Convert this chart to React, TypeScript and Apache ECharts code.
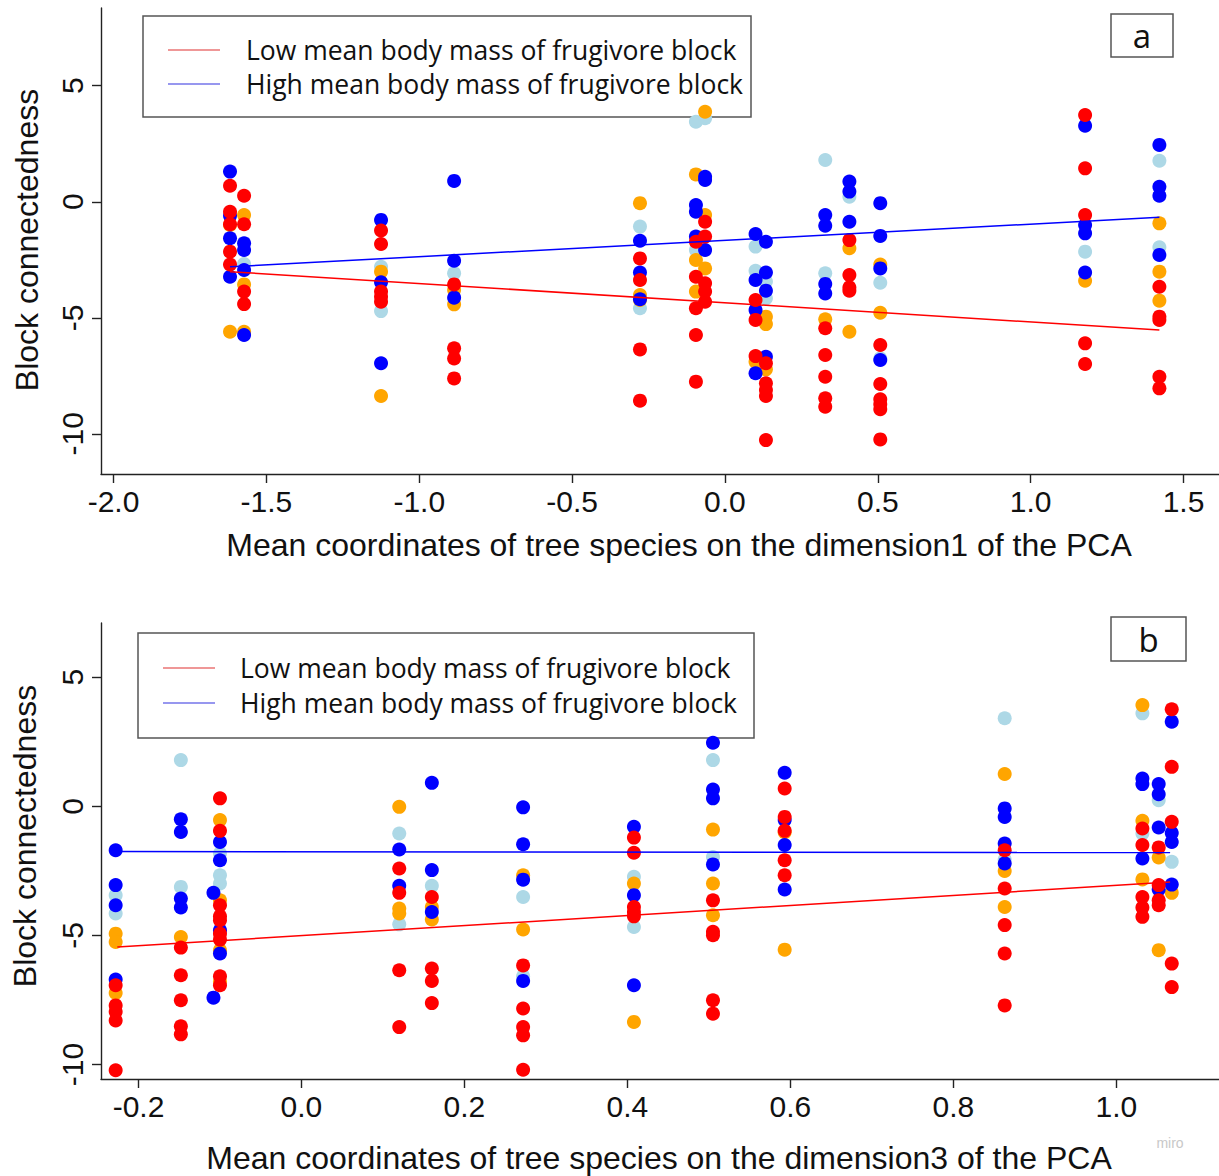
import React, { useEffect, useRef } from "react";
import * as echarts from "echarts";

// ---------- Panel a (dimension 1) ----------
const aX = [-1.619, -1.573, -1.125, -0.886, -0.278, -0.095, -0.065, 0.1, 0.134, 0.328, 0.407, 0.508, 1.178, 1.421];
const aRed = [
  [0.69, -0.43, -0.97, -2.15, -2.7],
  [0.26, -0.97, -3.87, -4.41],
  [-1.24, -1.82, -3.87, -4.09, -4.31],
  [-3.56, -6.31, -6.75, -7.61],
  [-2.44, -3.37, -6.36, -8.57],
  [-1.72, -3.23, -4.59, -5.74, -7.75],
  [-0.86, -1.5, -3.51, -3.87, -4.31],
  [-4.23, -5.09, -6.65],
  [-6.96, -7.82, -8.11, -8.37, -10.27],
  [-5.45, -6.6, -7.54, -8.47, -8.83],
  [-1.65, -3.16, -3.69, -3.83],
  [-6.17, -7.85, -8.51, -8.72, -8.94, -10.24],
  [3.74, 1.44, -0.57, -6.1, -6.99],
  [-3.66, -4.95, -5.09, -7.54, -8.04],
];
const aBlue = [
  [1.3, -0.6, -1.57, -3.23],
  [-1.79, -2.08, -2.94, -5.74],
  [-0.78, -3.47, -6.96],
  [0.9, -2.54, -4.13],
  [-1.68, -3.05, -4.2],
  [-0.14, -0.43, -1.5],
  [1.08, 0.94, -2.08],
  [-1.39, -3.37, -4.66, -7.39],
  [-1.72, -3.05, -3.83, -6.68],
  [-0.57, -1.03, -3.54, -3.95],
  [0.87, 0.44, -0.86],
  [-0.06, -1.47, -2.87, -6.82],
  [3.28, -1.0, -1.36, -3.05],
  [2.45, 0.65, 0.26, -2.29],
];
const aOrange = [
  [-1.0, -5.6],
  [-0.57, -3.56, -5.6],
  [-3.01, -8.37],
  [-3.8, -4.42],
  [-0.06, -4.02, -4.23],
  [1.18, -2.51, -3.87],
  [3.88, -0.57, -2.87],
  [-6.89],
  [-4.95, -5.27, -7.22],
  [-5.06],
  [-2.0, -5.6],
  [-2.7, -4.78],
  [-3.4],
  [-0.93, -3.01, -4.26],
];
const aLight = [
  [],
  [-2.68],
  [-2.8, -4.71],
  [-3.08],
  [-1.07, -4.59],
  [3.45, -2.08],
  [3.6],
  [-1.93, -2.97],
  [-3.44, -4.16],
  [1.8, -3.08],
  [0.22],
  [-3.49, -6.75],
  [-2.15],
  [1.77, -1.96],
];
const aRedFit = [[-1.619, -3.01], [1.421, -5.53]];
const aBlueFit = [[-1.619, -2.8], [1.421, -0.67]];
const aXTicks = [-2.0, -1.5, -1.0, -0.5, 0.0, 0.5, 1.0, 1.5];
const aYTicks = [-10, -5, 0, 5];

// ---------- Panel b (dimension 3) ----------
const bX = [-0.228, -0.148, -0.1, -0.108, 0.12, 0.16, 0.272, 0.408, 0.505, 0.593, 0.863, 1.032, 1.052, 1.068];
const bRed = [
  [-6.93, -7.71, -7.96, -8.29, -10.22],
  [-5.47, -6.54, -7.51, -8.52, -8.83],
  [0.31, -0.95, -3.83, -4.26, -4.41, -4.93, -5.16, -6.58, -6.93],
  [],
  [-2.41, -3.35, -6.35, -8.55],
  [-3.51, -6.28, -6.76, -7.62],
  [-6.16, -7.83, -8.55, -8.87, -10.2],
  [-1.21, -1.8, -3.9, -4.09, -4.26],
  [-3.64, -4.86, -4.99, -7.51, -8.03],
  [0.69, -0.41, -0.95, -2.09, -2.67],
  [-1.7, -3.18, -4.6, -5.7, -7.71],
  [-0.86, -1.5, -3.51, -3.92, -4.28],
  [-1.59, -3.05, -3.64, -3.83],
  [3.76, 1.53, -0.6, -6.09, -7.0],
];
const bBlue = [
  [-1.7, -3.05, -3.83, -6.71],
  [-0.5, -0.99, -3.57, -3.92],
  [-1.38, -2.09, -4.8, -5.7],
  [-3.35, -7.41],
  [-1.67, -3.08],
  [0.91, -2.47, -4.09],
  [-0.04, -1.47, -2.84, -6.76],
  [-0.79, -3.44, -6.93],
  [2.46, 0.65, 0.31, -2.25],
  [1.3, -0.53, -1.5, -3.22],
  [-0.08, -0.41, -1.44, -2.21],
  [1.08, 0.86, -2.02],
  [0.86, 0.47, -0.82, -3.22],
  [3.28, -1.03, -1.38, -3.03],
];
const bOrange = [
  [-4.93, -5.25, -7.23],
  [-5.06],
  [-0.53, -3.64, -5.57, -6.78],
  [],
  [-0.02, -3.96, -4.15],
  [-3.9, -4.38],
  [-2.67, -4.77],
  [-2.99, -8.35],
  [-0.9, -2.99, -4.22],
  [-1.0, -5.55],
  [1.25, -2.5, -3.9],
  [3.92, -0.56, -2.83],
  [-1.98, -5.57],
  [-3.35],
];
const bLight = [
  [-3.44, -4.15],
  [1.79, -3.12],
  [-1.83, -2.67, -2.99],
  [],
  [-1.05, -4.57],
  [-3.08],
  [-3.51, -6.58],
  [-2.73, -4.67],
  [1.79, -1.96],
  [],
  [3.41, -2.06],
  [3.6, -1.05],
  [0.24],
  [-2.15],
];
const bRedFit = [[-0.226, -5.45], [1.066, -2.93]];
const bBlueFit = [[-0.226, -1.75], [1.066, -1.79]];
const bXTicks = [-0.2, 0.0, 0.2, 0.4, 0.6, 0.8, 1.0];
const bYTicks = [-10, -5, 0, 5];

const legendLabels = ["Low mean body mass of frugivore block", "High mean body mass of frugivore block"];
const xTitles = [
  "Mean coordinates of tree species on the dimension1 of the PCA",
  "Mean coordinates of tree species on the dimension3 of the PCA",
];
const yTitle = "Block connectedness";
const panelLetters = ["a", "b"];

const RED = "#ff0000";
const BLUE = "#0000ff";
const ORANGE = "#ffa500";
const LIGHT = "#add8e6";
const AXFONT = "'Liberation Sans', Arial, sans-serif";
const LGFONT = "'Open Sans', 'Liberation Sans', sans-serif";

function toPts(xs: number[], ys: number[][]) {
  const out: number[][] = [];
  xs.forEach((x, i) => (ys[i] || []).forEach((y) => out.push([x, y])));
  return out;
}

function makeAxes(gi: number, xmin: number, xmax: number, ymin: number, ymax: number, xt: number[], yt: number[]) {
  const lineStyle = { color: "#222", width: 1.4 };
  const x = {
    gridIndex: gi,
    type: "value",
    min: xmin,
    max: xmax,
    splitLine: { show: false },
    axisLine: { show: true, onZero: false, lineStyle },
    axisTick: { show: true, length: 9, customValues: xt, lineStyle },
    axisLabel: {
      customValues: xt,
      formatter: (v: number) => v.toFixed(1),
      fontSize: 30,
      fontFamily: AXFONT,
      color: "#111",
      margin: 12,
    },
  };
  const y = {
    gridIndex: gi,
    type: "value",
    min: ymin,
    max: ymax,
    splitLine: { show: false },
    axisLine: { show: true, onZero: false, lineStyle },
    axisTick: { show: true, length: 9, customValues: yt, lineStyle },
    axisLabel: {
      customValues: yt,
      formatter: (v: number) => String(v),
      fontSize: 30,
      fontFamily: AXFONT,
      color: "#111",
      rotate: 90,
      margin: 14,
    },
  };
  return [x, y];
}

function scatterSeries(gi: number, color: string, data: number[][], z: number) {
  return {
    type: "scatter",
    xAxisIndex: gi,
    yAxisIndex: gi,
    data,
    symbol: "circle",
    symbolSize: 14,
    itemStyle: { color, opacity: 1 },
    z,
    silent: true,
  };
}

function fitSeries(gi: number, color: string, data: number[][]) {
  return {
    type: "line",
    xAxisIndex: gi,
    yAxisIndex: gi,
    data,
    symbol: "none",
    lineStyle: { color, width: 1.5 },
    z: 10,
    silent: true,
  };
}

function legendGraphic(x: number, y: number, w: number, h: number, lineY1: number, lineY2: number, lx: number, tx: number) {
  return [
    { type: "rect", shape: { x, y, width: w, height: h }, style: { fill: "#fff", stroke: "#555", lineWidth: 1.5 }, z: 0 },
    { type: "line", shape: { x1: lx, y1: lineY1, x2: lx + 52, y2: lineY1 }, style: { stroke: "#e03030", lineWidth: 1.2 }, z: 1 },
    { type: "line", shape: { x1: lx, y1: lineY2, x2: lx + 52, y2: lineY2 }, style: { stroke: "#3030e0", lineWidth: 1.2 }, z: 1 },
    { type: "text", x: tx, y: lineY1, style: { text: legendLabels[0], fontSize: 26.5, fontFamily: LGFONT, fill: "#111", align: "left", verticalAlign: "middle" }, z: 1 },
    { type: "text", x: tx, y: lineY2, style: { text: legendLabels[1], fontSize: 26.5, fontFamily: LGFONT, fill: "#111", align: "left", verticalAlign: "middle" }, z: 1 },
  ];
}

function letterBox(x: number, y: number, w: number, h: number, t: string) {
  return [
    { type: "rect", shape: { x, y, width: w, height: h }, style: { fill: "#fff", stroke: "#555", lineWidth: 1.5 }, z: 0 },
    { type: "text", x: x + w / 2, y: y + h / 2, style: { text: t, fontSize: 33, fontFamily: LGFONT, fill: "#111", align: "center", verticalAlign: "middle" }, z: 1 },
  ];
}

export default function App() {
  const ref = useRef<HTMLDivElement>(null);
  useEffect(() => {
    if (!ref.current) return;
    const chart = echarts.init(ref.current, null, { renderer: "svg" });
    const [ax, ay] = makeAxes(0, -2.041, 1.616, -11.73, 8.35, aXTicks, aYTicks);
    const [bx, by] = makeAxes(1, -0.246, 1.126, -10.56, 7.1, bXTicks, bYTicks);
    const option: any = {
      animation: false,
      backgroundColor: "#fff",
      grid: [
        { left: 101, top: 8, width: 1118, height: 466 },
        { left: 101, top: 623, width: 1118, height: 456 },
      ],
      xAxis: [ax, bx],
      yAxis: [ay, by],
      series: [
        scatterSeries(0, LIGHT, toPts(aX, aLight), 2),
        scatterSeries(0, ORANGE, toPts(aX, aOrange), 3),
        scatterSeries(0, BLUE, toPts(aX, aBlue), 4),
        scatterSeries(0, RED, toPts(aX, aRed), 5),
        fitSeries(0, RED, aRedFit),
        fitSeries(0, BLUE, aBlueFit),
        scatterSeries(1, LIGHT, toPts(bX, bLight), 2),
        scatterSeries(1, ORANGE, toPts(bX, bOrange), 3),
        scatterSeries(1, BLUE, toPts(bX, bBlue), 4),
        scatterSeries(1, RED, toPts(bX, bRed), 5),
        fitSeries(1, RED, bRedFit),
        fitSeries(1, BLUE, bBlueFit),
      ],
      graphic: [
        ...legendGraphic(143, 16, 608, 101, 50, 84, 168, 246),
        ...legendGraphic(138, 633, 616, 105, 668, 703, 163, 240),
        ...letterBox(1111, 14, 62, 43, panelLetters[0]),
        ...letterBox(1111, 617, 75, 44, panelLetters[1]),
        { type: "text", x: 27, y: 240, rotation: Math.PI / 2, style: { text: yTitle, fontSize: 32, fontFamily: AXFONT, fill: "#111", align: "center", verticalAlign: "middle" } },
        { type: "text", x: 25, y: 836, rotation: Math.PI / 2, style: { text: yTitle, fontSize: 32, fontFamily: AXFONT, fill: "#111", align: "center", verticalAlign: "middle" } },
        { type: "text", x: 679, y: 545, style: { text: xTitles[0], fontSize: 32, fontFamily: AXFONT, fill: "#111", align: "center", verticalAlign: "middle" } },
        { type: "text", x: 659, y: 1158, style: { text: xTitles[1], fontSize: 32, fontFamily: AXFONT, fill: "#111", align: "center", verticalAlign: "middle" } },
        { type: "text", x: 1170, y: 1143, style: { text: "miro", fontSize: 14, fontFamily: AXFONT, fill: "#c8c8c8", align: "center", verticalAlign: "middle" } },
      ],
    };
    chart.setOption(option);
    return () => chart.dispose();
  }, []);
  return <div ref={ref} style={{ position: "absolute", left: 0, top: 0, width: 1219, height: 1176, background: "#fff" }} />;
}
